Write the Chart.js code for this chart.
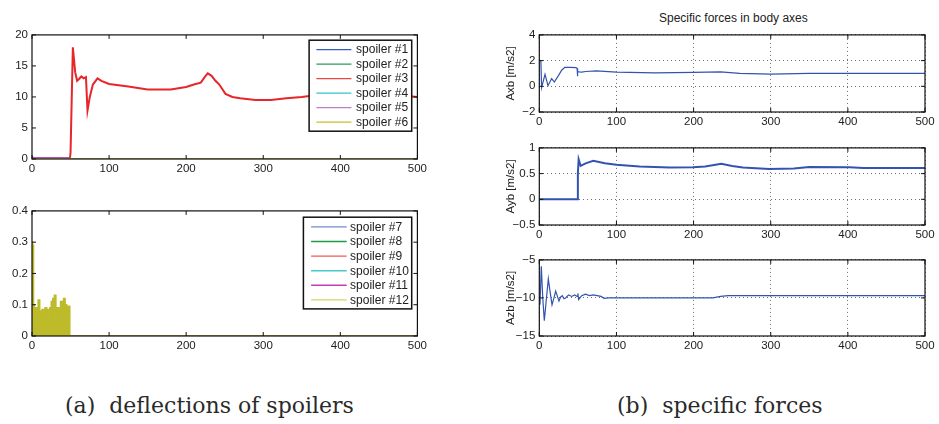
<!DOCTYPE html>
<html>
<head>
<meta charset="utf-8">
<script src="https://cdn.jsdelivr.net/npm/chart.js@4.4.1/dist/chart.umd.min.js"></script>
<style>
  html, body { margin: 0; padding: 0; background: #fff; }
  #wrap { position: relative; width: 939px; height: 424px; overflow: hidden; }
  canvas { position: absolute; }
  .cap { position: absolute; font-family: "DejaVu Serif", serif; font-size: 22px; line-height: 22px; color: #2a2a2a; white-space: pre; }
  .ttl { position: absolute; font-family: "Liberation Sans", Arial, sans-serif; font-size: 12px; line-height: 12px; color: #222; }
</style>
</head>
<body>
<div id="wrap">
  <canvas id="c1" width="430" height="157" style="left:0;top:24px"></canvas>
  <canvas id="c2" width="430" height="158" style="left:0;top:200px"></canvas>
  <div class="ttl" style="left:659px;top:12px">Specific forces in body axes</div>
  <canvas id="c3" width="439" height="110" style="left:500px;top:24px"></canvas>
  <canvas id="c4" width="439" height="110" style="left:500px;top:137px"></canvas>
  <canvas id="c5" width="439" height="109" style="left:500px;top:249px"></canvas>
  <div class="cap" style="left:65px;top:395px">(a)  deflections of spoilers</div>
  <div class="cap" style="left:617px;top:395px">(b)  specific forces</div>
</div>
<script>
// ---- data (time in s) ----
const xTicks = [0, 100, 200, 300, 400, 500];

// spoilers #1..#6
const tFlat = [0, 500];
const zeroLine = [0, 0];
const tSpoiler3 = [0, 49, 50, 53, 56, 58.5, 61, 64, 67, 70, 71, 72, 75, 79, 85, 90, 100, 125, 150, 180, 200, 210, 219, 224, 228, 233, 238, 243, 251, 260, 270, 290, 310, 330, 350, 370, 400, 430, 460, 490, 500];
const spoiler3 = [0, 0, 1, 18, 14, 12.6, 12.9, 13.3, 13.0, 13.2, 10.5, 7.8, 10, 12, 13, 12.6, 12.1, 11.7, 11.2, 11.2, 11.6, 12.0, 12.3, 13.2, 13.8, 13.4, 12.6, 12.0, 10.5, 10.0, 9.8, 9.5, 9.5, 9.8, 10.0, 10.3, 10.5, 10.5, 10.3, 10.1, 10.0];
const tSpoiler5 = [0, 2, 48, 50, 500];
const spoiler5 = [0.4, 0.2, 0.2, 0, 0];

// spoilers #7..#12
const tSpoiler12 = [0, 1, 2, 3, 4, 6, 8, 10, 12, 13, 15, 17, 19, 21, 23, 25, 27, 29, 31, 33, 35, 37, 39, 41, 43, 45, 47, 49, 50, 500];
const spoiler12 = [0.3, 0.3, 0.29, 0.1, 0.08, 0.09, 0.09, 0.115, 0.08, 0.07, 0.085, 0.075, 0.09, 0.085, 0.06, 0.09, 0.11, 0.12, 0.13, 0.09, 0.09, 0.08, 0.11, 0.11, 0.12, 0.1, 0.095, 0.095, 0, 0];

// specific forces
const tAxb = [0, 2, 3, 7.4, 11.3, 16, 19.5, 25, 29, 33, 40, 47.6, 49, 49.3, 50, 52, 55, 60, 74, 100, 150, 200, 235, 260, 300, 350, 400, 500];
const axb = [2.0, 2.0, -0.1, 0.93, 0.05, 0.6, 0.33, 0.85, 1.25, 1.47, 1.47, 1.45, 1.4, 0.78, 1.15, 1.12, 1.1, 1.15, 1.2, 1.1, 1.05, 1.08, 1.12, 1.0, 0.95, 1.0, 1.0, 1.0];

const tAyb = [0, 49, 50, 51, 53.6, 60, 70, 85, 100, 130, 169, 199, 215, 236, 250, 264, 298, 330, 350, 402, 420, 500];
const ayb = [0, 0, 0.5, 0.78, 0.65, 0.7, 0.75, 0.7, 0.67, 0.64, 0.62, 0.625, 0.64, 0.69, 0.65, 0.62, 0.59, 0.6, 0.63, 0.625, 0.61, 0.61];

const tAzb = [0, 0.9, 2.6, 4.5, 6.5, 9, 11.7, 14, 16.5, 19, 21.2, 23.5, 25.5, 27.5, 29.8, 32, 34, 38, 42, 46, 49, 50, 51, 55, 60, 65, 70, 75, 80, 84, 90, 100, 150, 200, 225, 235, 245, 300, 400, 500];
const azb = [-10, -10.9, -5.85, -10, -13, -10.3, -7.5, -9.2, -10.9, -10, -9.1, -9.8, -10.4, -9.9, -9.7, -10.1, -10, -9.6, -9.8, -9.6, -9.8, -9.4, -10.2, -9.7, -9.5, -9.7, -9.6, -9.7, -9.8, -10.05, -10, -10, -10, -10, -10, -9.8, -9.7, -9.7, -9.7, -9.7];

// ---- helpers ----
const pts = (ts, vs) => ts.map((t, i) => ({ x: t, y: vs[i] }));
const fmt = v => String(+Number(v).toFixed(2)).replace('-', '\u2212');
const tickFont = { family: '"Liberation Sans", Arial, sans-serif', size: 11.5 };

// box round the axes with inward tick marks on all sides
const axesBox = {
  id: 'axesBox',
  afterDraw(chart) {
    const { ctx, chartArea: a, scales } = chart;
    const len = 4;
    ctx.save();
    ctx.strokeStyle = '#111';
    ctx.lineWidth = 1.2;
    ctx.strokeRect(a.left, a.top, a.right - a.left, a.bottom - a.top);
    ctx.lineWidth = 1;
    ctx.beginPath();
    scales.x.ticks.forEach(t => {
      const px = scales.x.getPixelForValue(t.value);
      ctx.moveTo(px, a.bottom); ctx.lineTo(px, a.bottom - len);
      ctx.moveTo(px, a.top); ctx.lineTo(px, a.top + len);
    });
    scales.y.ticks.forEach(t => {
      const py = scales.y.getPixelForValue(t.value);
      ctx.moveTo(a.left, py); ctx.lineTo(a.left + len, py);
      ctx.moveTo(a.right, py); ctx.lineTo(a.right - len, py);
    });
    ctx.stroke();
    ctx.restore();
  }
};

// matlab style legend box in the top right corner
const boxLegend = {
  id: 'boxLegend',
  afterDatasetsDraw(chart, args, o) {
    if (!o || !o.display) return;
    const { ctx, chartArea: a } = chart;
    const x0 = a.right - o.right - o.width;
    const y0 = a.top + o.top;
    ctx.save();
    ctx.fillStyle = '#fff';
    ctx.fillRect(x0, y0, o.width, o.height);
    ctx.strokeStyle = '#111';
    ctx.lineWidth = 1.5;
    ctx.strokeRect(x0, y0, o.width, o.height);
    ctx.font = '12px "Liberation Sans", Arial, sans-serif';
    ctx.textBaseline = 'middle';
    chart.data.datasets.forEach((ds, i) => {
      const y = y0 + o.first + i * o.row;
      ctx.strokeStyle = ds.legendColor;
      ctx.lineWidth = 1.4;
      ctx.beginPath();
      ctx.moveTo(x0 + o.lineStart, y);
      ctx.lineTo(x0 + o.lineStart + o.lineLen, y);
      ctx.stroke();
      ctx.fillStyle = '#222';
      ctx.fillText(ds.label, x0 + o.textStart, y + 0.5);
    });
    ctx.restore();
  }
};

function makeChart(id, datasets, y, opts) {
  const gridOn = opts.grid;
  const grid = gridOn
    ? { color: 'rgba(60,60,60,0.75)', lineWidth: 1, drawTicks: false }
    : { display: false, drawTicks: false };
  const border = { display: false, dash: [1, 3] };
  return new Chart(document.getElementById(id), {
    type: 'line',
    data: { datasets },
    options: {
      responsive: false,
      animation: false,
      devicePixelRatio: 1,
      layout: { padding: { top: 8, right: opts.right, left: 0, bottom: 0 } },
      elements: { point: { radius: 0 }, line: { tension: 0 } },
      plugins: { legend: { display: false }, tooltip: { enabled: false }, boxLegend: opts.legend || { display: false } },
      scales: {
        x: {
          type: 'linear', min: 0, max: 500,
          afterBuildTicks: s => { s.ticks = xTicks.map(v => ({ value: v })); },
          ticks: { font: tickFont, color: '#222', padding: 3, maxRotation: 0, callback: fmt },
          grid, border,
          afterFit: s => { s.height = 22; }
        },
        y: {
          min: y.min, max: y.max,
          afterBuildTicks: s => { s.ticks = y.ticks.map(v => ({ value: v })); },
          ticks: { font: tickFont, color: '#222', padding: 4, callback: fmt },
          title: y.title ? { display: true, text: y.title, color: '#222', font: { family: '"Liberation Sans", Arial, sans-serif', size: 11.5 }, padding: { top: 4, bottom: 0 } } : { display: false },
          grid, border,
          afterFit: s => { s.width = opts.yWidth; }
        }
      }
    },
    plugins: [axesBox, boxLegend]
  });
}

// ---- (a) spoilers #1..#6 ----
const colors1 = ['#3a5bb8', '#2e9a5a', '#e8252a', '#35c4c4', '#b64fbf', '#c4c02c'];
const legend1 = ['#3a5bb8', '#2e9a5a', '#ee4444', '#35c4c4', '#c27cc8', '#c4c02c'];
const series1 = [pts(tFlat, zeroLine), pts(tFlat, zeroLine), pts(tSpoiler3, spoiler3), pts(tFlat, zeroLine), pts(tSpoiler5, spoiler5), pts(tFlat, zeroLine)];
makeChart('c1', series1.map((d, i) => ({
  label: 'spoiler #' + (i + 1), data: d, borderColor: colors1[i], legendColor: legend1[i],
  borderWidth: i === 2 ? 2 : 1.5, order: 6 - i
})), { min: 0, max: 20, ticks: [0, 5, 10, 15, 20] },
{ right: 11, yWidth: 32, legend: { display: true, right: 5.7, top: 5.3, width: 102.6, height: 91, first: 9.4, row: 14.5, lineStart: 7.3, lineLen: 35, textStart: 47 } });

// ---- (a) spoilers #7..#12 ----
const colors2 = ['#6f8cd0', '#1f9a45', '#f25c5c', '#45c9c9', '#c43fb5', '#bdbb2a'];
const legend2 = ['#6f8cd0', '#1f9a45', '#f25c5c', '#45c9c9', '#c43fb5', '#d4d468'];
const series2 = [pts(tFlat, zeroLine), pts(tFlat, zeroLine), pts(tFlat, zeroLine), pts(tFlat, zeroLine), pts(tFlat, zeroLine), pts(tSpoiler12, spoiler12)];
makeChart('c2', series2.map((d, i) => ({
  label: 'spoiler #' + (i + 7), data: d, borderColor: colors2[i], legendColor: legend2[i],
  borderWidth: 1.5, order: 6 - i,
  fill: i === 5 ? 'origin' : false, backgroundColor: '#bdbb2a', stepped: i === 5 ? 'after' : false
})), { min: 0, max: 0.4, ticks: [0, 0.1, 0.2, 0.3, 0.4] },
{ right: 11, yWidth: 32, legend: { display: true, right: 5.7, top: 6.3, width: 108.3, height: 91.7, first: 9.7, row: 14.6, lineStart: 7.7, lineLen: 35.6, textStart: 46.7 } });

// ---- (b) specific forces ----
const forceColor = '#3353b0';
makeChart('c3', [{ label: 'Axb', data: pts(tAxb, axb), borderColor: forceColor, borderWidth: 1.2 }],
  { min: -2, max: 4, ticks: [-2, 0, 2, 4], title: 'Axb [m/s2]' }, { right: 14, yWidth: 39.3, grid: true });
makeChart('c4', [{ label: 'Ayb', data: pts(tAyb, ayb), borderColor: forceColor, borderWidth: 2 }],
  { min: -0.5, max: 1, ticks: [-0.5, 0, 0.5, 1], title: 'Ayb [m/s2]' }, { right: 14, yWidth: 39.3, grid: true });
makeChart('c5', [{ label: 'Azb', data: pts(tAzb, azb), borderColor: forceColor, borderWidth: 1.2 }],
  { min: -15, max: -5, ticks: [-15, -10, -5], title: 'Azb [m/s2]' }, { right: 14, yWidth: 39.3, grid: true });
</script>
</body>
</html>
